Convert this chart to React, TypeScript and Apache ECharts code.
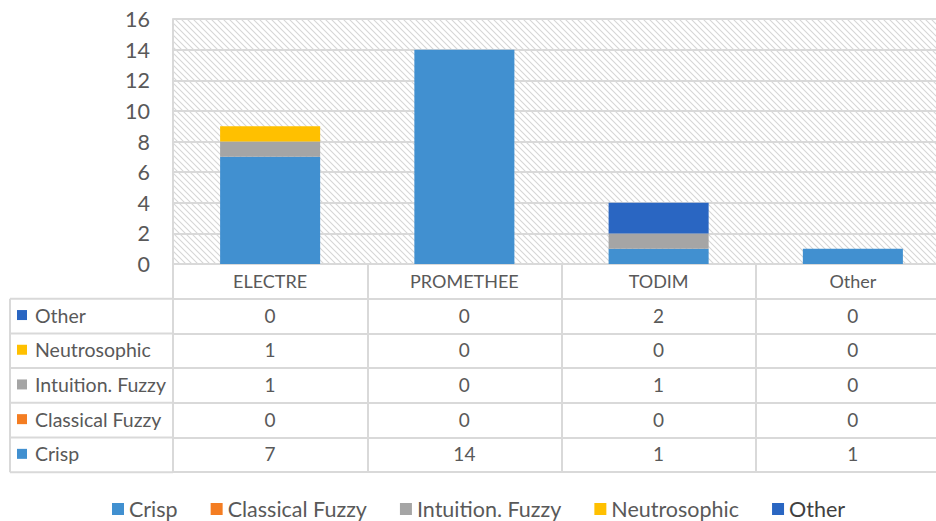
import React, { useEffect, useRef } from 'react';
import * as echarts from 'echarts';

const categories = ['ELECTRE', 'PROMETHEE', 'TODIM', 'Other'];
const seriesNames = ['Crisp', 'Classical Fuzzy', 'Intuition. Fuzzy', 'Neutrosophic', 'Other'];
const crisp = [7, 14, 1, 1];
const classicalFuzzy = [0, 0, 0, 0];
const intuitionFuzzy = [1, 0, 1, 0];
const neutrosophic = [1, 0, 0, 0];
const other = [0, 0, 2, 0];
const seriesValues = [crisp, classicalFuzzy, intuitionFuzzy, neutrosophic, other];
const seriesColors = ['#4190d0', '#f47d22', '#a5a5a5', '#ffc000', '#2a66c2'];
const yTicks = { min: 0, max: 16, interval: 2 };

const FONT = 'Lato, "Open Sans", sans-serif';
const TEXT = '#595959';
const LINE = '#d9d9d9';

const GRID_LEFT = 173;
const GRID_TOP = 19;
const GRID_W = 777;
const GRID_H = 245;
const ROW_H = 34.7;
const TABLE_LEFT = 10;

function makeHatch() {
  const s = 6;
  const c = document.createElement('canvas');
  c.width = s;
  c.height = s;
  const ctx = c.getContext('2d')!;
  ctx.fillStyle = '#ffffff';
  ctx.fillRect(0, 0, s, s);
  ctx.strokeStyle = '#d6d6d6';
  ctx.lineWidth = 1.1;
  ctx.beginPath();
  ctx.moveTo(-1, -1);
  ctx.lineTo(s + 1, s + 1);
  ctx.moveTo(-1, s - 1);
  ctx.lineTo(1, s + 1);
  ctx.moveTo(s - 1, -1);
  ctx.lineTo(s + 1, 1);
  ctx.stroke();
  return c;
}

export default function App() {
  const ref = useRef<HTMLDivElement>(null);

  useEffect(() => {
    if (!ref.current) return;
    const chart = echarts.init(ref.current, null, { renderer: 'svg' });
    const hatch = makeHatch();

    // table rows top-to-bottom: reverse of series order
    const rowOrder = [4, 3, 2, 1, 0];
    const baseY = GRID_TOP + GRID_H;

    const xAxes: any[] = [
      {
        type: 'category',
        data: categories,
        gridIndex: 0,
        position: 'bottom',
        boundaryGap: true,
        axisLine: { show: true, lineStyle: { color: LINE, width: 2 } },
        axisTick: { show: true, length: ROW_H, lineStyle: { color: LINE, width: 2 } },
        axisLabel: {
          interval: 0,
          margin: ROW_H / 2,
          verticalAlign: 'middle',
          color: TEXT,
          fontSize: 18,
          fontFamily: FONT,
        },
      },
    ];
    rowOrder.forEach((si, k) => {
      const vals = seriesValues[si];
      xAxes.push({
        type: 'category',
        data: categories,
        gridIndex: 0,
        position: 'bottom',
        offset: ROW_H * (k + 1),
        boundaryGap: true,
        axisLine: { show: true, lineStyle: { color: LINE, width: 2 } },
        axisTick: { show: true, length: ROW_H, lineStyle: { color: LINE, width: 2 } },
        axisLabel: {
          interval: 0,
          margin: ROW_H / 2 - 1,
          verticalAlign: 'middle',
          color: TEXT,
          fontSize: 19,
          fontFamily: FONT,
          formatter: (_v: string, idx: number) => String(vals[idx]),
        },
      });
    });
    xAxes.push({
      type: 'category',
      data: categories,
      gridIndex: 0,
      position: 'bottom',
      offset: ROW_H * 6,
      axisLine: { show: true, lineStyle: { color: LINE, width: 2 } },
      axisTick: { show: false },
      axisLabel: { show: false },
    });

    const graphics: any[] = [];
    rowOrder.forEach((si, k) => {
      const top = baseY + ROW_H * (k + 1);
      const cy = top + ROW_H / 2 - 1;
      graphics.push({
        type: 'rect',
        shape: { x: 17, y: cy - 5, width: 10, height: 10 },
        style: { fill: seriesColors[si] },
      });
      graphics.push({
        type: 'text',
        x: 35,
        y: cy,
        style: {
          text: seriesNames[si],
          fill: TEXT,
          font: `19.5px ${FONT}`,
          verticalAlign: 'middle',
        },
      });
    });
    for (let k = 1; k <= 6; k++) {
      const y = baseY + ROW_H * k;
      graphics.push({
        type: 'line',
        shape: { x1: TABLE_LEFT, y1: y, x2: GRID_LEFT, y2: y },
        style: { stroke: LINE, lineWidth: 2 },
      });
    }
    graphics.push({
      type: 'line',
      shape: { x1: TABLE_LEFT, y1: baseY + ROW_H, x2: TABLE_LEFT, y2: baseY + ROW_H * 6 },
      style: { stroke: LINE, lineWidth: 2 },
    });

    chart.setOption({
      animation: false,
      backgroundColor: '#ffffff',
      grid: {
        left: GRID_LEFT,
        top: GRID_TOP,
        width: GRID_W,
        height: GRID_H,
        outerBoundsMode: 'none',
        containLabel: false,
        show: true,
        borderWidth: 0,
        backgroundColor: {
          image: hatch,
          repeat: 'repeat',
          imageWidth: 6,
          imageHeight: 6,
        } as any,
      },
      legend: {
        left: 107,
        top: 493,
        icon: 'rect',
        itemWidth: 12,
        itemHeight: 12,
        itemGap: 33,
        textStyle: { color: TEXT, fontSize: 21.5, fontFamily: FONT, lineHeight: 22 },
        data: seriesNames.map((n, i) =>
          i === 4 ? { name: n, textStyle: { color: '#404040' } } : { name: n }
        ),
      },
      xAxis: xAxes,
      yAxis: {
        type: 'value',
        min: yTicks.min,
        max: yTicks.max,
        interval: yTicks.interval,
        axisLine: { show: true, lineStyle: { color: LINE, width: 2 } },
        axisTick: { show: false },
        splitLine: { show: true, lineStyle: { color: LINE, width: 2 } },
        axisLabel: { color: TEXT, fontSize: 21.5, fontFamily: FONT, margin: 23 },
      },
      graphic: graphics,
      series: seriesNames.map((n, i) => ({
        name: n,
        type: 'bar',
        stack: 'total',
        xAxisIndex: 0,
        data: seriesValues[i],
        barCategoryGap: '48.5%',
        itemStyle: { color: seriesColors[i] },
      })),
    });

    return () => chart.dispose();
  }, []);

  return (
    <div
      ref={ref}
      style={{ position: 'absolute', left: 0, top: 0, width: 936, height: 521, overflow: 'hidden' }}
    />
  );
}
